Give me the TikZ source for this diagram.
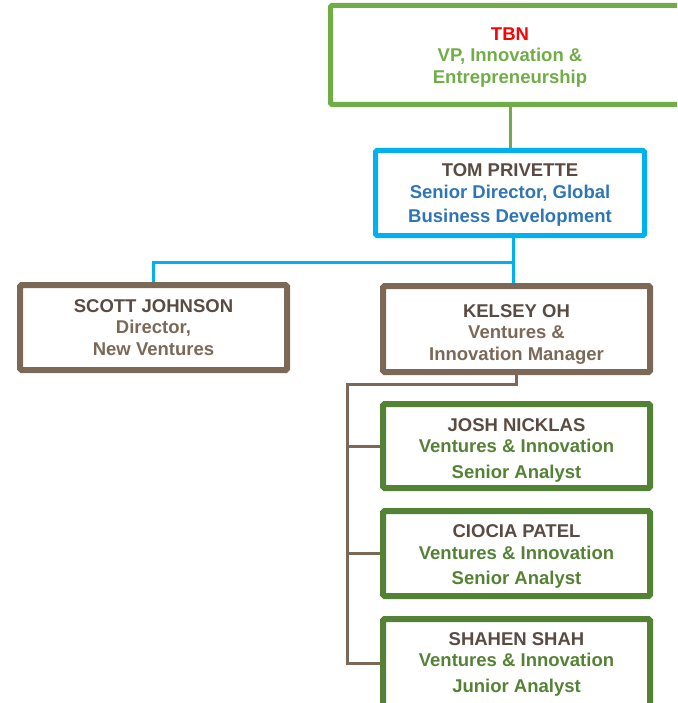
\documentclass[tikz,border=0pt]{standalone}
\usepackage{fontspec}
\setmainfont{Liberation Sans}
\usepackage{xcolor}
\usepackage{tikz}

\definecolor{tbnred}{RGB}{255,0,0}
\definecolor{vpgreen}{RGB}{112,173,71}
\definecolor{leafgreen}{RGB}{84,130,53}
\definecolor{skyblue}{RGB}{0,176,240}
\definecolor{titleblue}{RGB}{46,117,182}
\definecolor{taupe}{RGB}{124,104,86}
\definecolor{namegray}{RGB}{89,74,66}
\newcommand{\headroom}[1]{\rule{0pt}{#1}}

\begin{document}
\begin{tikzpicture}[x=1pt, y=-1pt,
    box/.style={draw, rectangle, rounded corners=1.5pt, line width=6pt, inner sep=0pt,
        minimum width=267pt, minimum height=85pt, align=center,
        font=\fontsize{18.5}{21.5}\selectfont\bfseries},
    link/.style={line width=3pt}]
            \useasboundingbox (0,0) rectangle (677,703);
            \clip (0,0) rectangle (677,703);
            % Top of the chart
            \node[box, draw=vpgreen, text=vpgreen, line width=5pt, minimum width=359pt, minimum height=99pt] (tbn) at (510,55)
                {\headroom{17pt}\textcolor{tbnred}{TBN}\\VP, Innovation \&\\Entrepreneurship};
            \node[box, draw=skyblue, text=titleblue, line width=5pt, minimum width=269pt] (tom) at (510,193)
                {\headroom{17pt}\textcolor{namegray}{TOM PRIVETTE}\\Senior Director, Global\\[3pt]Business Development};
            \node[box, draw=taupe, text=taupe] (scott) at (153.5,327.5)
                {\textcolor{namegray}{SCOTT JOHNSON}\\Director,\\New Ventures};
            \node[box, draw=taupe, text=taupe, minimum height=86pt] (kelsey) at (516.5,329)
                {\headroom{23pt}\textcolor{namegray}{KELSEY OH}\\Ventures \&\\Innovation Manager};
            % Analysts
            \node[box, draw=leafgreen, text=leafgreen, minimum height=84pt] (josh) at (516.5,446)
                {\headroom{21pt}\textcolor{namegray}{JOSH NICKLAS}\\Ventures \& Innovation\\[4pt]Senior Analyst};
            \node[box, draw=leafgreen, text=leafgreen] (ciocia) at (516.5,553.5)
                {\headroom{19pt}\textcolor{namegray}{CIOCIA PATEL}\\Ventures \& Innovation\\[4pt]Senior Analyst};
            \node[box, draw=leafgreen, text=leafgreen, minimum height=88pt] (shahen) at (516.5,663)
                {\headroom{15pt}\textcolor{namegray}{SHAHEN SHAH}\\Ventures \& Innovation\\[4pt]Junior Analyst};
            % Links
            \coordinate (split) at (513,262);
            \coordinate (trunk) at (347,384);
            \draw[link, vpgreen] (tbn.south) -- (tom.north);
            \draw[link, skyblue] (tom.south -| split) -- (kelsey.north -| split);
            \draw[link, skyblue] (scott.north) |- (split);
            \draw[link, taupe] (kelsey.south) |- (trunk) -- (trunk |- shahen.west) -- (shahen.west);
            \foreach \n in {josh, ciocia}
                \draw[link, taupe] (trunk |- \n.west) -- (\n.west);
        \end{tikzpicture}
\end{document}
